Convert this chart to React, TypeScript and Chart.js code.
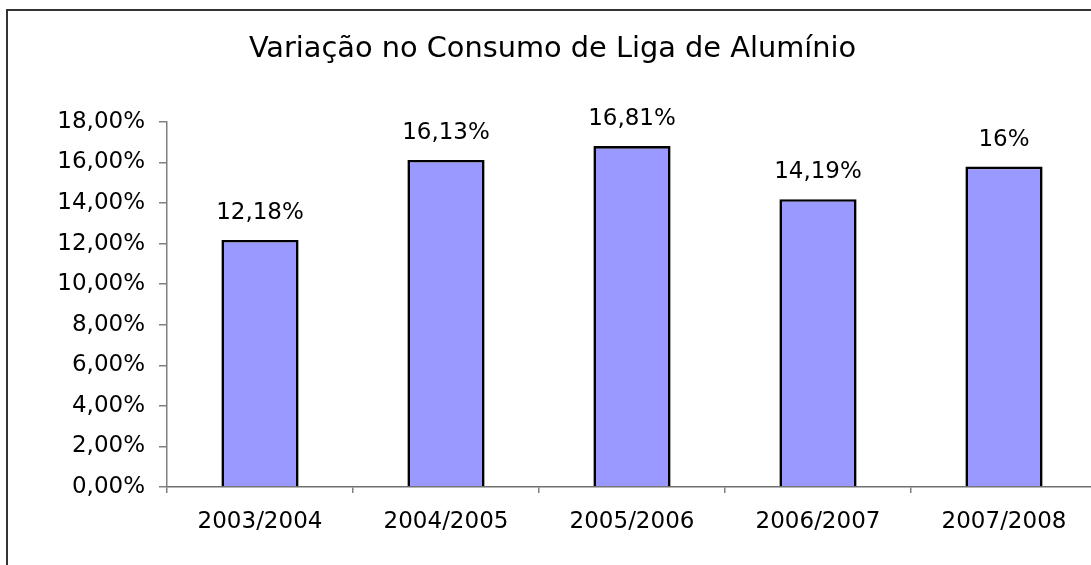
import React, { useEffect, useRef } from "react";
import { Chart, registerables } from "chart.js";

Chart.register(...registerables);

const categories = ["2003/2004", "2004/2005", "2005/2006", "2006/2007", "2007/2008"];
const values = [12.18, 16.13, 16.81, 14.19, 15.8];
const valueLabels = ["12,18%", "16,13%", "16,81%", "14,19%", "16%"];
const yTickLabels = ["0,00%", "2,00%", "4,00%", "6,00%", "8,00%", "10,00%", "12,00%", "14,00%", "16,00%", "18,00%"];
const titleText = "Variação no Consumo de Liga de Alumínio";

const FONT = "'DejaVu Sans', 'Liberation Sans', Arial, sans-serif";

const valueLabelPlugin = {
  id: "valueLabels",
  afterDatasetsDraw(chart: any) {
    const ctx = chart.ctx;
    const meta = chart.getDatasetMeta(0);
    ctx.save();
    ctx.font = `23px ${FONT}`;
    ctx.fillStyle = "#000";
    ctx.textAlign = "center";
    ctx.textBaseline = "middle";
    meta.data.forEach((bar: any, i: number) => {
      ctx.fillText(valueLabels[i], bar.x, bar.y - 27);
    });
    ctx.restore();
  },
};

export default function App() {
  const ref = useRef<HTMLCanvasElement | null>(null);

  useEffect(() => {
    if (!ref.current) return;
    const chart = new Chart(ref.current, {
      type: "bar",
      data: {
        labels: categories,
        datasets: [
          {
            data: values,
            backgroundColor: "#9999FF",
            borderColor: "#000000",
            borderWidth: 2.6,
            barPercentage: 0.415,
            categoryPercentage: 1,
          },
        ],
      },
      options: {
        responsive: false,
        animation: false,
        layout: { padding: { left: 0, right: 31, top: 0, bottom: 44 } },
        plugins: {
          legend: { display: false },
          tooltip: { enabled: false },
          title: {
            display: true,
            text: titleText,
            color: "#000",
            font: { family: FONT, size: 28.8, weight: "normal" as any },
            padding: { top: 21, bottom: 55.4 },
          },
        },
        scales: {
          x: {
            grid: {
              offset: true,
              drawOnChartArea: false,
              drawTicks: true,
              tickLength: 6,
              color: "#808080",
              lineWidth: 1.5,
            },
            border: { display: true, color: "#707070", width: 1.5 },
            ticks: {
              color: "#000",
              font: { family: FONT, size: 23 },
              padding: 15,
              maxRotation: 0,
              autoSkip: false,
            },
            afterFit: (scale: any) => {
              scale.height = 60;
            },
          },
          y: {
            min: 0,
            max: 18,
            grid: {
              drawOnChartArea: false,
              drawTicks: true,
              tickLength: 8,
              color: "#808080",
              lineWidth: 1.5,
            },
            border: { display: true, color: "#808080", width: 1.5 },
            ticks: {
              stepSize: 2,
              color: "#000",
              font: { family: FONT, size: 23 },
              padding: 14,
              callback: (_v: any, i: number) => yTickLabels[i],
            },
            afterFit: (scale: any) => {
              scale.width = 159;
            },
          },
        },
      },
      plugins: [valueLabelPlugin],
    });
    return () => chart.destroy();
  }, []);

  return (
    <div
      style={{
        position: "fixed",
        left: 0,
        top: 0,
        width: 1091,
        height: 565,
        overflow: "hidden",
        background: "#fff",
      }}
    >
      <div
        style={{
          position: "absolute",
          left: 6,
          top: 9,
          width: 1140,
          height: 620,
          border: "2px solid #333",
          background: "#fff",
        }}
      >
        <canvas
          ref={ref}
          width={1120}
          height={580}
          style={{ position: "absolute", left: 0, top: 0, width: 1120, height: 580 }}
        />
      </div>
    </div>
  );
}
